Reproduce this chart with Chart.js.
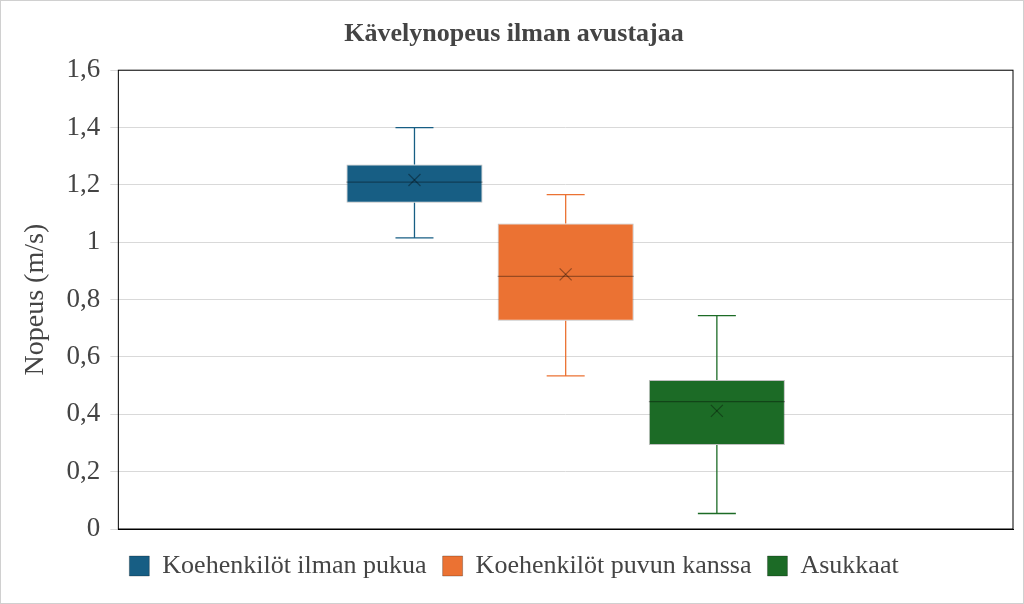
<!DOCTYPE html>
<html>
<head>
<meta charset="utf-8">
<script src="https://cdn.jsdelivr.net/npm/chart.js@4"></script>
<style>
  html, body { margin: 0; padding: 0; background: #fff; }
  #wrap { width: 1022px; height: 602px; border: 1px solid #d0d0d0; }
</style>
</head>
<body>
<div id="wrap"><canvas id="c"></canvas></div>
<script>
'use strict';

const seriesNames = ['Koehenkilöt ilman pukua', 'Koehenkilöt puvun kanssa', 'Asukkaat'];
const colors = ['#175E84', '#EB7233', '#1C6B26'];
const mins    = [1.015, 0.534, 0.054];
const q1s     = [1.138, 0.726, 0.293];
const medians = [1.210, 0.881, 0.444];
const q3s     = [1.271, 1.065, 0.520];
const maxs    = [1.400, 1.166, 0.744];
const means   = [1.217, 0.888, 0.412];

const serif = "'Liberation Serif', 'DejaVu Serif', serif";

// whiskers, median line, mean cross
const boxExtras = {
    id: 'boxExtras',
    afterDatasetsDraw(chart) {
        const { ctx, scales: { y } } = chart;
        chart.data.datasets.forEach((ds, i) => {
            const bar = chart.getDatasetMeta(i).data[0];
            const x = bar.x, half = bar.width / 2;
            const line = (x1, y1, x2, y2) => { ctx.beginPath(); ctx.moveTo(x1, y1); ctx.lineTo(x2, y2); ctx.stroke(); };
            ctx.save();
            ctx.strokeStyle = colors[i];
            ctx.lineWidth = 1.3;
            line(x, y.getPixelForValue(q3s[i]), x, y.getPixelForValue(maxs[i]));
            line(x, y.getPixelForValue(q1s[i]), x, y.getPixelForValue(mins[i]));
            line(x - 19, y.getPixelForValue(maxs[i]), x + 19, y.getPixelForValue(maxs[i]));
            line(x - 19, y.getPixelForValue(mins[i]), x + 19, y.getPixelForValue(mins[i]));
            ctx.strokeStyle = 'rgba(0,0,0,0.35)';
            line(x - half, y.getPixelForValue(medians[i]), x + half, y.getPixelForValue(medians[i]));
            const my = y.getPixelForValue(means[i]);
            line(x - 6, my - 6, x + 6, my + 6);
            line(x - 6, my + 6, x + 6, my - 6);
            ctx.restore();
        });
        const a = chart.chartArea;
        ctx.save();
        ctx.strokeStyle = '#000';
        ctx.lineWidth = 1;
        ctx.strokeRect(a.left, a.top, a.right - a.left, a.bottom - a.top);
        ctx.restore();
    }
};

new Chart(document.getElementById('c'), {
    type: 'bar',
    data: {
        labels: [''],
        datasets: seriesNames.map((name, i) => ({
            label: name,
            data: [[q1s[i], q3s[i]]],
            backgroundColor: colors[i],
            borderColor: 'rgba(0,0,0,0.25)',
            borderWidth: 1,
            borderSkipped: false,
            categoryPercentage: 0.507,
            barPercentage: 0.9
        }))
    },
    options: {
        responsive: true,
        maintainAspectRatio: false,
        animation: false,
        layout: { padding: { left: 14, right: 10, top: 4, bottom: 14 } },
        plugins: {
            title: {
                display: true,
                text: 'Kävelynopeus ilman avustajaa',
                color: '#444',
                font: { family: serif, size: 26, weight: 'bold' },
                padding: { top: 14, bottom: 20 }
            },
            legend: {
                position: 'bottom',
                labels: {
                    color: '#444',
                    font: { family: serif, size: 26 },
                    boxWidth: 20, boxHeight: 20,
                    padding: 16
                }
            },
            tooltip: { enabled: false }
        },
        scales: {
            x: {
                grid: { display: false },
                border: { color: '#000' },
                ticks: { display: false }
            },
            y: {
                min: 0, max: 1.6,
                ticks: {
                    stepSize: 0.2,
                    color: '#444',
                    padding: 10,
                    font: { family: serif, size: 27 },
                    callback: v => String(Math.round(v * 10) / 10).replace('.', ',')
                },
                grid: { color: '#d9d9d9' },
                border: { display: false },
                title: {
                    display: true,
                    text: 'Nopeus (m/s)',
                    color: '#444',
                    font: { family: serif, size: 28 }
                }
            }
        }
    },
    plugins: [boxExtras]
});
</script>
</body>
</html>
